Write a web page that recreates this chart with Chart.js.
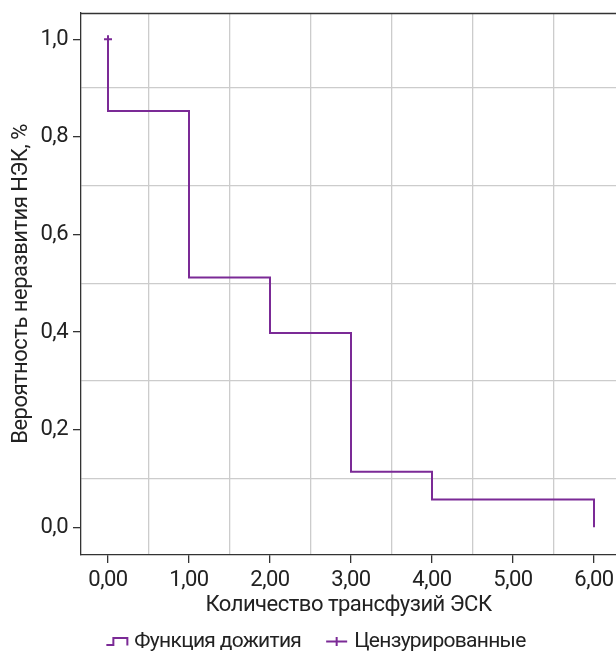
<!DOCTYPE html>
<html><head><meta charset="utf-8">
<script src="https://cdn.jsdelivr.net/npm/chart.js@4/dist/chart.umd.min.js"></script>
<style>
html,body{margin:0;padding:0;overflow:hidden;background:#fff;width:616px;height:651px}
#c{display:block}
</style></head><body>
<canvas id="c" width="616" height="651" style="width:616px;height:651px"></canvas>
<script>
// Data (Kaplan-Meier steps)
const times = [0, 0, 1, 2, 3, 4, 6];
const survival = [1.0, 0.853, 0.512, 0.398, 0.114, 0.057, 0.0];
const censoredTimes = [0];
const censoredValues = [1.0];
const seriesNames = ['Функция дожития', 'Цензурированные'];
const xTitle = 'Количество трансфузий ЭСК';
const yTitle = 'Вероятность неразвития НЭК, %';

const PURPLE = '#7b2a96';
const TEXT = '#222';
const FONT = "Roboto, 'Liberation Sans', sans-serif";
const FS = 22;
const LS = '-0.5px';

const isInt = v => Math.abs(v - Math.round(v)) < 1e-6;
const isEvenTenth = v => Math.abs(v*5 - Math.round(v*5)) < 1e-6;

const spacing = {
  id:'spacing',
  beforeUpdate(chart){ chart.ctx.letterSpacing = LS; },
  beforeLayout(chart){ chart.ctx.letterSpacing = LS; },
  beforeDraw(chart){ chart.ctx.letterSpacing = LS; }
};

// border on top + custom legend
const extras = {
  id:'extras',
  afterDraw(chart){
    const a = chart.chartArea, ctx = chart.ctx;
    ctx.save();
    ctx.strokeStyle = '#333'; ctx.lineWidth = 1.3;
    ctx.beginPath(); ctx.moveTo(a.left, a.top+0.5); ctx.lineTo(a.right, a.top+0.5); ctx.stroke();
    // legend
    ctx.letterSpacing = '-0.7px';
    ctx.font = '21px ' + FONT;
    const iconW = 22, gapIT = 6, gapItems = 25;
    const w0 = ctx.measureText(seriesNames[0]).width, w1 = ctx.measureText(seriesNames[1]).width;
    const total = iconW + gapIT + w0 + gapItems + iconW + gapIT + w1;
    let x = 316 - total/2;
    const yc = 641.5;
    ctx.strokeStyle = PURPLE; ctx.lineWidth = 2;
    ctx.beginPath();
    ctx.moveTo(x, yc+3.5); ctx.lineTo(x+7, yc+3.5); ctx.lineTo(x+7, yc-3.5); ctx.lineTo(x+21, yc-3.5); ctx.lineTo(x+21, yc+4);
    ctx.stroke();
    ctx.fillStyle = TEXT; ctx.textBaseline = 'middle'; ctx.textAlign = 'left';
    ctx.fillText(seriesNames[0], x + iconW + gapIT, yc);
    x += iconW + gapIT + w0 + gapItems;
    ctx.beginPath();
    ctx.moveTo(x, yc); ctx.lineTo(x+21, yc); ctx.moveTo(x+10.5, yc-4.5); ctx.lineTo(x+10.5, yc+4.5);
    ctx.stroke();
    ctx.fillText(seriesNames[1], x + iconW + gapIT, yc);
    ctx.restore();
  }
};

new Chart(document.getElementById('c'), {
  type:'scatter',
  data:{
    datasets:[
      {label:seriesNames[0], data:times.map((t,i)=>({x:t,y:survival[i]})), showLine:true, stepped:true,
       borderColor:PURPLE, borderWidth:2, pointRadius:0, fill:false},
      {label:seriesNames[1], data:censoredTimes.map((t,i)=>({x:t,y:censoredValues[i]})), showLine:false,
       pointStyle:'cross', pointRadius:4, borderColor:PURPLE, borderWidth:2, backgroundColor:PURPLE}
    ]
  },
  plugins:[spacing, extras],
  options:{
    responsive:false, animation:false, devicePixelRatio:1,
    layout:{autoPadding:false, padding:{top:13,right:0,left:0,bottom:0}},
    plugins:{ tooltip:{enabled:false}, legend:{display:false} },
    scales:{
      x:{type:'linear', min:-1/3, max:-1/3 + 535/81,
        afterBuildTicks:s=>{ const t=[]; for(let i=0;i<=12;i++) t.push({value:i/2}); s.ticks=t; },
        afterFit:s=>{ s.height = 96; s.paddingLeft = 0; s.paddingRight = 0; },
        ticks:{color:TEXT, font:{family:FONT,size:FS}, padding:4, autoSkip:false, maxRotation:0,
          callback:v=>isInt(v)? v.toFixed(2).replace('.',','):''},
        grid:{color:c=>isInt(c.tick.value)?'rgba(0,0,0,0)':'#cccccc', lineWidth:1.3,
          tickColor:c=>isInt(c.tick.value)?'#333':'rgba(0,0,0,0)', tickLength:8, drawTicks:true},
        border:{color:'#333', width:1.3},
        title:{display:true, text:xTitle, color:TEXT, font:{family:FONT,size:FS}, padding:{top:0,bottom:32}}
      },
      y:{type:'linear', min:1.0539-1.1107, max:1.0539,
        afterBuildTicks:s=>{ const t=[]; for(let i=0;i<=10;i++) t.push({value:i/10}); s.ticks=t; },
        afterFit:s=>{ s.width = 81; s.paddingTop = 0; s.paddingBottom = 0; },
        ticks:{color:TEXT, font:{family:FONT,size:FS}, padding:5, autoSkip:false,
          callback:v=>isEvenTenth(v)? v.toFixed(1).replace('.',','):''},
        grid:{color:c=>isEvenTenth(c.tick.value)?'rgba(0,0,0,0)':'#cccccc', lineWidth:1.3,
          tickColor:c=>isEvenTenth(c.tick.value)?'#333':'rgba(0,0,0,0)', tickLength:8},
        border:{color:'#333', width:1.3},
        title:{display:true, text:yTitle, color:TEXT, font:{family:FONT,size:FS}, padding:{top:8,bottom:0}}
      }
    }
  }
});
</script></body></html>
